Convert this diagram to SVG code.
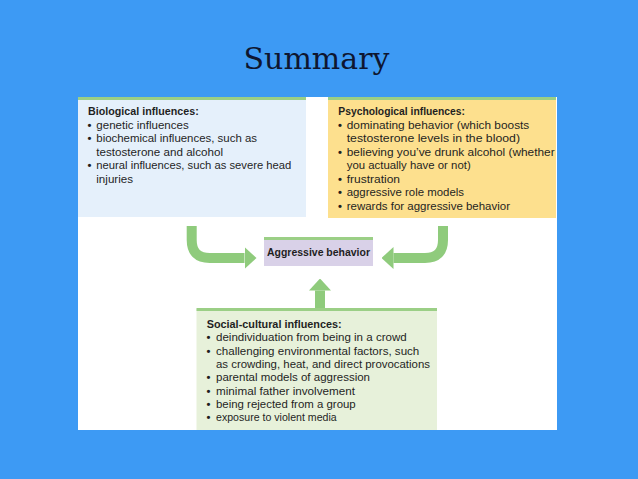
<svg xmlns="http://www.w3.org/2000/svg" width="638" height="479" viewBox="0 0 638 479">
<defs>
<style>
.t{font-family:"Liberation Sans",Arimo,sans-serif;font-size:11.2px;fill:#1f1f1f}
.b{font-weight:bold}
.topline{fill:#9bcf86}
.conn{fill:none;stroke:#8fcb7c;stroke-width:10}
</style>
<marker id="ah" viewBox="0 0 12 22" markerWidth="12" markerHeight="22" markerUnits="userSpaceOnUse" refX="0" refY="11" orient="auto">
<path d="M0,0 L12,11 L0,22 Z" fill="#8fcb7c"/>
</marker>
</defs>
<rect width="638" height="479" fill="#3d9af4"/>
<text x="316.5" y="69" text-anchor="middle" font-family="DejaVu Serif,Liberation Serif,serif" font-size="30" fill="#0e1630">Summary</text>
<g id="panel"><rect x="78" y="97" width="479" height="333" fill="#ffffff"/></g>

<g id="bio">
<rect x="78" y="98" width="228" height="119" fill="#e5f0fb"/>
<rect class="topline" x="78" y="97" width="228" height="3"/>
<text class="t b" x="88" y="115" textLength="110.7" lengthAdjust="spacingAndGlyphs">Biological influences:</text>
<text class="t b" x="87.5" y="128.5">•</text><text class="t" x="96.3" y="128.5" textLength="92.4" lengthAdjust="spacingAndGlyphs">genetic influences</text>
<text class="t b" x="87.5" y="142">•</text><text class="t" x="96.3" y="142" textLength="160.7" lengthAdjust="spacingAndGlyphs">biochemical influences, such as</text>
<text class="t" x="96.3" y="155.5" textLength="126.7" lengthAdjust="spacingAndGlyphs">testosterone and alcohol</text>
<text class="t b" x="87.5" y="169">•</text><text class="t" x="96.3" y="169" textLength="195" lengthAdjust="spacingAndGlyphs">neural influences, such as severe head</text>
<text class="t" x="96.3" y="182.5" textLength="36.7" lengthAdjust="spacingAndGlyphs">injuries</text>
</g>

<g id="psych">
<rect x="328" y="98" width="228" height="120" fill="#fde08e"/>
<rect class="topline" x="328" y="97" width="228" height="3"/>
<text class="t b" x="338.3" y="115" textLength="126.7" lengthAdjust="spacingAndGlyphs">Psychological influences:</text>
<text class="t b" x="338" y="128.5">•</text><text class="t" x="346.7" y="128.5" textLength="182.6" lengthAdjust="spacingAndGlyphs">dominating behavior (which boosts</text>
<text class="t" x="346.7" y="142" textLength="173.3" lengthAdjust="spacingAndGlyphs">testosterone levels in the blood)</text>
<text class="t b" x="338" y="155.5">•</text><text class="t" x="346.7" y="155.5" textLength="208" lengthAdjust="spacingAndGlyphs">believing you’ve drunk alcohol (whether</text>
<text class="t" x="346.7" y="169" textLength="124" lengthAdjust="spacingAndGlyphs">you actually have or not)</text>
<text class="t b" x="338" y="182.5">•</text><text class="t" x="346.7" y="182.5" textLength="53.3" lengthAdjust="spacingAndGlyphs">frustration</text>
<text class="t b" x="338" y="196">•</text><text class="t" x="346.7" y="196" textLength="117.3" lengthAdjust="spacingAndGlyphs">aggressive role models</text>
<text class="t b" x="338" y="209.5">•</text><text class="t" x="346.7" y="209.5" textLength="163.3" lengthAdjust="spacingAndGlyphs">rewards for aggressive behavior</text>
</g>

<g id="aggr">
<rect x="264" y="238" width="109" height="28" fill="#d9d1e8"/>
<rect class="topline" x="264" y="237" width="109" height="3"/>
<text class="t b" x="318.5" y="255.5" text-anchor="middle" textLength="103" lengthAdjust="spacingAndGlyphs">Aggressive behavior</text>
</g>

<g id="social">
<rect x="196.5" y="309" width="240.5" height="121" fill="#e7f1da"/>
<rect class="topline" x="196.5" y="308" width="240.5" height="3"/>
<text class="t b" x="206.7" y="328" textLength="135" lengthAdjust="spacingAndGlyphs">Social-cultural influences:</text>
<text class="t b" x="206.5" y="341.3">•</text><text class="t" x="216" y="341.3" textLength="190.7" lengthAdjust="spacingAndGlyphs">deindividuation from being in a crowd</text>
<text class="t b" x="206.5" y="354.6">•</text><text class="t" x="216" y="354.6" textLength="203.3" lengthAdjust="spacingAndGlyphs">challenging environmental factors, such</text>
<text class="t" x="216" y="368" textLength="214" lengthAdjust="spacingAndGlyphs">as crowding, heat, and direct provocations</text>
<text class="t b" x="206.5" y="381.3">•</text><text class="t" x="216" y="381.3" textLength="154" lengthAdjust="spacingAndGlyphs">parental models of aggression</text>
<text class="t b" x="206.5" y="394.6">•</text><text class="t" x="216" y="394.6" textLength="139" lengthAdjust="spacingAndGlyphs">minimal father involvement</text>
<text class="t b" x="206.5" y="408">•</text><text class="t" x="216" y="408" textLength="139.7" lengthAdjust="spacingAndGlyphs">being rejected from a group</text>
<text class="t b" x="206.5" y="421.3">•</text><text class="t" x="216" y="421.3" textLength="120.7" lengthAdjust="spacingAndGlyphs">exposure to violent media</text>
</g>

<g id="connectors">
<path class="conn" d="M191.7,226 V240 Q191.7,258 209.7,258 H244.5" marker-end="url(#ah)"/>
<path class="conn" d="M443,226 V240 Q443,258 425,258 H393.5" marker-end="url(#ah)"/>
<path class="conn" d="M320,308 V290.5" marker-end="url(#ah)"/>
</g>
</svg>
